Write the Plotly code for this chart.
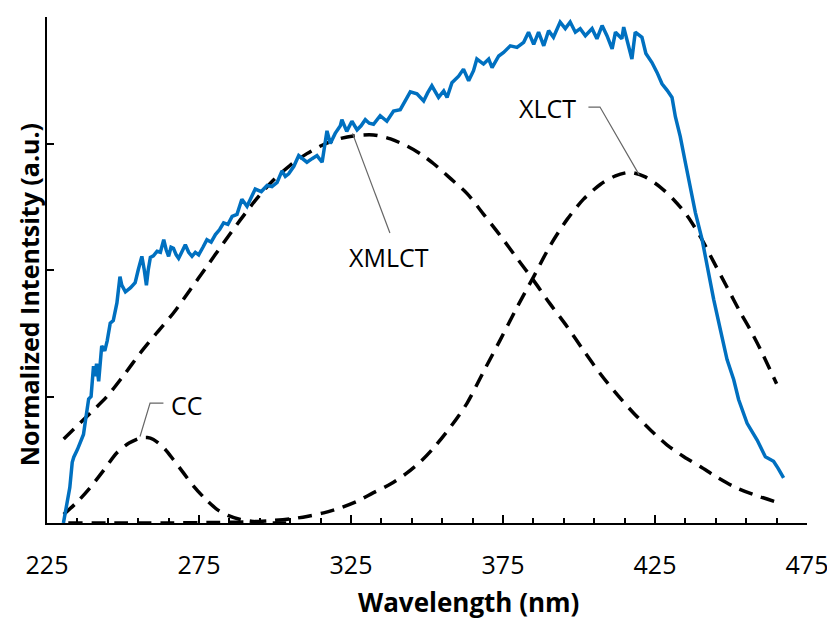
import plotly.graph_objects as go

# ---- data ----
meas_x = [230.4, 231.0, 231.6, 232.5, 233.3, 233.8, 235.0, 236.0, 237.0, 237.6, 238.7, 239.5, 240.3, 240.8, 241.3,
          242.0, 243.0, 244.0, 244.8, 245.8, 246.8, 248.0, 249.0, 249.6, 250.8, 252.5, 254.0, 255.0, 256.2, 257.0,
          257.7, 258.3, 259.0, 260.0, 261.2, 262.3, 263.4, 264.2, 265.0, 265.8, 266.6, 267.5, 268.3, 269.3, 270.5,
          271.6, 272.7, 273.8, 274.9, 276.3, 277.6, 279.0, 280.4, 281.8, 283.1, 284.5, 285.9, 287.5, 289.1, 290.8,
          292.2, 293.5, 295.5, 297.4, 299.0, 300.7, 302.3, 303.4, 304.5, 306.2, 307.8, 309.2, 310.5, 312.2, 313.8,
          315.5, 316.3, 317.1, 318.2, 319.8, 321.5, 322.0, 323.6, 325.3, 327.0, 328.3, 329.7, 331.0, 332.4, 334.6,
          336.8, 339.0, 341.2, 342.9, 344.5, 346.7, 348.9, 350.2, 351.6, 353.8, 355.5, 356.6, 358.2, 360.4, 362.0,
          363.7, 365.3, 366.4, 368.6, 370.3, 371.4, 373.6, 375.2, 377.4, 379.6, 381.8, 383.4, 385.1, 386.7, 388.4,
          390.0, 391.6, 393.8, 395.5, 397.1, 398.8, 400.4, 402.1, 404.3, 405.9, 407.6, 409.2, 410.9, 412.0, 414.1,
          414.7, 416.3, 417.4, 418.5, 420.7, 422.0, 424.0, 425.7, 427.3, 429.0, 430.6, 431.7, 433.3, 435.0, 436.6,
          438.3, 440.5, 442.6, 444.3, 446.5, 448.7, 450.9, 452.5, 455.3, 458.6, 461.3, 464.0, 465.5, 467.3]
meas_y = [0.0, 0.02, 0.04, 0.07, 0.12, 0.13, 0.145, 0.16, 0.175, 0.20, 0.245, 0.25, 0.31, 0.29, 0.315,
          0.28, 0.35, 0.34, 0.36, 0.395, 0.40, 0.435, 0.487, 0.47, 0.457, 0.465, 0.475, 0.50, 0.527, 0.50,
          0.47, 0.50, 0.525, 0.528, 0.537, 0.535, 0.56, 0.54, 0.527, 0.545, 0.543, 0.53, 0.523, 0.535, 0.55,
          0.535, 0.527, 0.535, 0.53, 0.545, 0.56, 0.555, 0.57, 0.58, 0.593, 0.59, 0.606, 0.61, 0.64, 0.626,
          0.645, 0.66, 0.655, 0.667, 0.665, 0.673, 0.696, 0.685, 0.69, 0.705, 0.726, 0.72, 0.713, 0.72, 0.726,
          0.713, 0.74, 0.775, 0.75, 0.77, 0.785, 0.797, 0.774, 0.794, 0.777, 0.785, 0.797, 0.79, 0.788, 0.805,
          0.794, 0.814, 0.817, 0.834, 0.852, 0.848, 0.834, 0.85, 0.864, 0.841, 0.854, 0.841, 0.87, 0.883, 0.897,
          0.874, 0.894, 0.917, 0.907, 0.917, 0.90, 0.923, 0.93, 0.943, 0.94, 0.95, 0.97, 0.946, 0.97, 0.943,
          0.973, 0.96, 0.99, 0.977, 0.99, 0.97, 0.977, 0.963, 0.977, 0.957, 0.983, 0.963, 0.937, 0.97, 0.957,
          0.98, 0.946, 0.917, 0.97, 0.96, 0.928, 0.91, 0.89, 0.868, 0.855, 0.841, 0.803, 0.764, 0.712, 0.666,
          0.613, 0.56, 0.494, 0.442, 0.382, 0.323, 0.283, 0.244, 0.197, 0.164, 0.131, 0.122, 0.108, 0.089]

xmlct_x = [230.5, 237.5, 244.7, 250.0, 255.7, 261.0, 266.6, 272.0, 277.6, 283.0, 288.6, 294.0, 299.5, 305.0,
           310.5, 316.0, 321.5, 327.0, 332.4, 338.0, 343.4, 348.0, 352.2, 357.5, 363.2, 368.5, 374.1, 379.5,
           385.1, 390.5, 396.1, 401.5, 407.0, 412.5, 418.0, 423.5, 429.0, 434.5, 440.0, 445.5, 450.9, 457.5, 464.6]
xmlct_y = [0.166, 0.207, 0.25, 0.29, 0.336, 0.375, 0.415, 0.46, 0.507, 0.553, 0.599, 0.641, 0.678, 0.707,
           0.73, 0.748, 0.76, 0.766, 0.767, 0.759, 0.745, 0.729, 0.71, 0.682, 0.651, 0.611, 0.568, 0.524,
           0.479, 0.433, 0.388, 0.341, 0.295, 0.254, 0.217, 0.184, 0.154, 0.131, 0.111, 0.09, 0.072, 0.056, 0.042]

xlct_x = [232.0, 250.0, 265.0, 280.0, 290.0, 299.5, 305.0, 310.5, 316.0, 321.5, 327.0, 332.4, 338.0, 343.0,
          348.0, 352.7, 358.0, 363.2, 368.5, 374.1, 379.5, 385.1, 390.5, 396.1, 401.5, 407.0, 412.0, 416.9,
          421.8, 426.7, 431.0, 435.5, 440.0, 444.3, 448.7, 453.0, 456.5, 459.6, 465.0]
xlct_y = [0.0, 0.0, 0.0, 0.001, 0.002, 0.005, 0.008, 0.013, 0.02, 0.03, 0.043, 0.06, 0.077, 0.097,
          0.122, 0.152, 0.192, 0.237, 0.298, 0.362, 0.425, 0.487, 0.548, 0.60, 0.64, 0.669, 0.686, 0.693,
          0.684, 0.664, 0.64, 0.608, 0.565, 0.516, 0.466, 0.417, 0.38, 0.344, 0.275]

cc_x = [230.5, 235.0, 239.2, 243.5, 248.0, 252.0, 255.7, 258.0, 260.0, 263.5, 266.6, 270.0, 273.2, 277.0,
        280.9, 284.5, 288.6, 294.0, 299.5, 305.0]
cc_y = [0.017, 0.042, 0.07, 0.103, 0.139, 0.158, 0.168, 0.169, 0.165, 0.148, 0.125, 0.098, 0.073, 0.048,
        0.027, 0.015, 0.007, 0.002, 0.0, 0.0]

x_ticks = [225, 275, 325, 375, 425, 475]
y_ticks = [0, 0.25, 0.5, 0.75, 1.0]

labels = ["CC", "XMLCT", "XLCT"]
label_pos = [(271.2, 0.234), (337.5, 0.526), (389.6, 0.820)]
leader_paths = [
    [(255.6, 0.171), (258.9, 0.237), (263.3, 0.237)],
    [(325.5, 0.770), (337.8, 0.573)],
    [(419.8, 0.688), (406.9, 0.822), (403.1, 0.822)],
]

FONT = "Open Sans"
BLUE = "#0070C0"
DASH = "14px,9px"

fig = go.Figure()
for xs, ys in [(xmlct_x, xmlct_y), (xlct_x, xlct_y), (cc_x, cc_y)]:
    fig.add_trace(go.Scatter(x=xs, y=ys, mode="lines",
                             line=dict(color="black", width=3.5, dash=DASH, shape="spline", smoothing=0.8),
                             showlegend=False, hoverinfo="skip"))
fig.add_trace(go.Scatter(x=meas_x, y=meas_y, mode="lines",
                         line=dict(color=BLUE, width=3.5), showlegend=False))

shapes = []
for path in leader_paths:
    d = "M " + " L ".join(f"{px},{py}" for px, py in path)
    shapes.append(dict(type="path", path=d, xref="x", yref="y",
                       line=dict(color="#666666", width=1.2)))

annotations = []
for txt, (ax, ay) in zip(labels, label_pos):
    annotations.append(dict(x=ax, y=ay, xref="x", yref="y", text=txt, showarrow=False,
                            font=dict(family=FONT, size=25, color="black"),
                            xanchor="center", yanchor="middle"))
annotations.append(dict(x=(468 - 47) / 760, y=(523.5 - 603) / 506.5, xref="paper", yref="paper",
                        text="<b>Wavelength (nm)</b>", showarrow=False,
                        font=dict(family=FONT, size=26, color="black"),
                        xanchor="center", yanchor="middle"))
annotations.append(dict(x=(28.5 - 47) / 760, y=(523.5 - 295) / 506.5, xref="paper", yref="paper",
                        text="<b>Normalized Intentsity (a.u.)</b>", showarrow=False, textangle=-90,
                        font=dict(family=FONT, size=25, color="black"),
                        xanchor="center", yanchor="middle"))

fig.update_layout(
    width=827, height=621,
    margin=dict(l=47, r=20, t=17, b=98, autoexpand=False),
    paper_bgcolor="white", plot_bgcolor="white",
    shapes=shapes, annotations=annotations,
    xaxis=dict(range=[225, 475], tickmode="array", tickvals=x_ticks,
               ticktext=[str(v) for v in x_ticks], automargin=False, ticklabeloverflow="allow",
               ticks="inside", ticklen=8, tickwidth=1.5, tickcolor="black",
               minor=dict(dtick=10, tick0=225, ticks="inside", ticklen=5, tickwidth=1.5, tickcolor="black",
                          showgrid=False),
               showline=True, linecolor="black", linewidth=2, showgrid=False, zeroline=False,
               tickfont=dict(family=FONT, size=25, color="black"), ticklabelstandoff=19),
    yaxis=dict(range=[0, 1], tickmode="array", tickvals=y_ticks, showticklabels=False, automargin=False,
               ticks="inside", ticklen=7, tickwidth=1.5, tickcolor="black",
               showline=True, linecolor="black", linewidth=2, showgrid=False, zeroline=False),
)

fig.write_html("out.html", config={"displayModeBar": False},
               post_script="document.body.style.margin='0px';document.body.style.overflow='hidden';")
